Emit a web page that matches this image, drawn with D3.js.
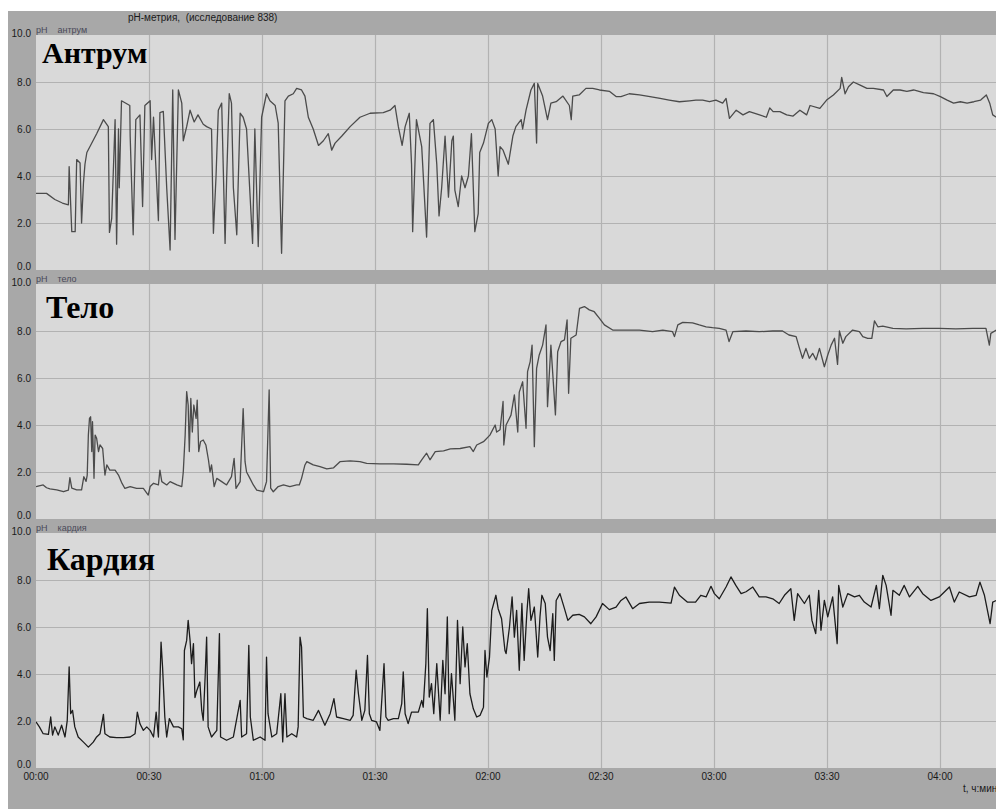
<!DOCTYPE html>
<html>
<head>
<meta charset="utf-8">
<script src="https://cdn.jsdelivr.net/npm/d3@7.9.0/dist/d3.min.js"></script>
<style>
    body { margin: 0; background: #fff; }
    text { font-family: "Liberation Sans", Arial, sans-serif; white-space: pre; }
</style>
</head>
<body>
<div id="chart"></div>
<script>
// time in minutes from start, pH value
const antrum = [
    [0, 3.26], [2.8, 3.26], [5, 3.0], [7, 2.85], [8.6, 2.77], [8.8, 4.4], [9.5, 1.63], [10.4, 1.63],
    [10.8, 4.7], [11.7, 4.55], [12.1, 2.0], [12.6, 3.7], [13.0, 4.5], [13.5, 5.0], [16.1, 5.8],
    [17.9, 6.4], [19.2, 6.1], [19.5, 1.6], [20.1, 2.2], [21.0, 6.4], [21.4, 1.1], [21.9, 6.0],
    [22.1, 3.5], [22.7, 7.2], [24.9, 7.0], [25.0, 5.7], [25.8, 1.5], [26.5, 6.4], [27.6, 6.6],
    [28.3, 2.7], [28.9, 7.0], [30.3, 7.2], [30.7, 4.7], [31.2, 6.5], [32.5, 2.1], [32.9, 6.7],
    [33.8, 6.75], [34.7, 3.5], [35.6, 0.85], [36.3, 7.66], [36.9, 1.3], [37.8, 7.66], [38.7, 7.1],
    [39.1, 5.5], [40.0, 6.1], [40.9, 6.8], [42.0, 6.3], [43.0, 6.6], [44.4, 6.2], [45.3, 6.1],
    [46.6, 6.0], [47.1, 1.56], [47.8, 4.0], [48.4, 6.8], [49.3, 7.1], [50.2, 1.13], [50.6, 3.8],
    [51.3, 7.5], [51.9, 7.1], [52.4, 3.5], [53.3, 1.5], [54.2, 6.67], [55.0, 6.5], [55.9, 6.0],
    [57.5, 1.13], [58.1, 6.0], [59.0, 1.0], [59.9, 6.5], [61.2, 7.5], [62.1, 7.2], [63.5, 7.0],
    [64.3, 6.25], [65.2, 0.71], [66.1, 7.2], [67.0, 7.4], [68.3, 7.5], [69.2, 7.73], [70.5, 7.66],
    [71.4, 7.4], [72.3, 6.5], [73.6, 6.0], [75.0, 5.3], [76.3, 5.5], [77.6, 5.8], [78.5, 5.1],
    [79.4, 5.4], [81.2, 5.7], [83.4, 6.1], [86.0, 6.5], [88.7, 6.67], [92.2, 6.7], [94.0, 6.8],
    [95.3, 7.0], [96.2, 6.1], [97.2, 5.3], [98.0, 6.1], [99.1, 6.67], [99.7, 4.5], [100.0, 1.63],
    [100.6, 4.5], [101.0, 6.4], [102.4, 5.25], [103.7, 1.4], [104.6, 6.24], [105.5, 6.4], [106.4, 4.5],
    [107.0, 2.3], [107.7, 3.5], [108.6, 5.7], [109.5, 3.1], [110.4, 5.5], [110.8, 5.7], [111.2, 3.4],
    [112.1, 2.7], [113.0, 4.0], [113.9, 3.5], [114.8, 4.0], [115.6, 5.8], [116.5, 1.63], [117.4, 2.4],
    [117.8, 5.0], [118.8, 5.4], [120.1, 6.24], [121.0, 6.4], [121.9, 6.0], [122.7, 4.0], [123.2, 5.25],
    [124.0, 5.1], [125.4, 4.5], [126.6, 5.7], [127.4, 6.1], [128.8, 6.4], [129.2, 6.0], [130.1, 6.8],
    [131.4, 7.66], [132.3, 7.94], [132.9, 5.4], [133.2, 7.94], [134.5, 7.4], [135.8, 6.4], [136.7, 7.1],
    [138.1, 7.16], [139.9, 7.4], [141.6, 7.0], [142.1, 6.4], [142.5, 7.4], [144.2, 7.45], [146.0, 7.73],
    [147.8, 7.73], [149.6, 7.66], [152.3, 7.6], [154.0, 7.38], [155.3, 7.38], [157.5, 7.5], [160.2, 7.45],
    [163.0, 7.38], [165.7, 7.3], [168.1, 7.23], [170.8, 7.16], [173.5, 7.2], [175.2, 7.23], [177.0, 7.23],
    [178.8, 7.16], [180.5, 7.23], [182.3, 7.1], [183.2, 7.3], [184.1, 6.45], [185.9, 6.8], [187.7, 6.6],
    [189.4, 6.74], [192.1, 6.6], [193.9, 6.5], [194.8, 6.9], [195.7, 6.74], [197.5, 6.74], [199.3, 6.6],
    [201.0, 6.55], [202.8, 6.8], [204.6, 6.6], [205.5, 7.0], [208.1, 6.88], [209.9, 7.23], [211.7, 7.45],
    [213.5, 7.73], [213.9, 8.2], [214.8, 7.5], [215.7, 7.8], [217.0, 8.0], [218.8, 7.87], [220.6, 7.73],
    [222.3, 7.73], [225.0, 7.66], [225.9, 7.38], [227.6, 7.66], [229.4, 7.66], [231.2, 7.6], [233.0, 7.66],
    [235.6, 7.55], [238.3, 7.5], [240.1, 7.38], [241.9, 7.23], [243.6, 7.1], [245.4, 7.16], [247.2, 7.1],
    [249.0, 7.16], [250.8, 7.23], [252.3, 7.45], [253.2, 7.1], [254.0, 6.6], [255, 6.5]
];

const telo = [
    [0, 1.38], [1.9, 1.45], [2.8, 1.33], [3.7, 1.28], [5.5, 1.24], [7.3, 1.16], [8.6, 1.23], [9.0, 1.76],
    [9.5, 1.31], [10.8, 1.24], [12.1, 1.24], [12.7, 1.8], [13.3, 1.6], [13.6, 1.87], [13.9, 3.57],
    [14.2, 4.28], [14.5, 4.35], [14.8, 2.87], [15.0, 4.14], [15.4, 1.73], [15.7, 3.57], [16.1, 3.43],
    [16.6, 2.87], [17.0, 3.15], [17.7, 3.0], [18.3, 1.87], [18.8, 2.3], [19.6, 2.08], [21.0, 2.08],
    [21.9, 1.87], [22.7, 1.56], [23.6, 1.3], [25.0, 1.38], [26.7, 1.3], [28.5, 1.3], [29.8, 1.02],
    [30.3, 1.38], [31.2, 1.52], [32.5, 1.45], [32.9, 2.08], [33.4, 1.59], [34.7, 1.45], [35.6, 1.59],
    [37.4, 1.45], [38.7, 1.38], [39.1, 2.0], [39.6, 3.57], [40.0, 5.42], [40.4, 4.85], [40.7, 2.87],
    [41.1, 5.13], [41.5, 3.7], [41.9, 4.85], [42.5, 4.28], [42.8, 5.06], [43.2, 2.87], [43.7, 3.3],
    [44.4, 3.36], [45.1, 3.15], [45.8, 2.5], [46.2, 2.0], [46.6, 2.3], [47.3, 1.38], [48.0, 1.73],
    [49.3, 1.59], [50.6, 1.45], [51.9, 1.8], [52.6, 2.58], [53.1, 1.3], [54.2, 1.59], [55.0, 4.7],
    [55.5, 2.44], [55.9, 2.0], [56.8, 1.73], [57.7, 1.45], [58.6, 1.23], [60.4, 1.16], [61.2, 1.59],
    [61.9, 5.49], [62.3, 1.31], [63.0, 1.16], [64.3, 1.38], [65.7, 1.45], [67.4, 1.38], [69.2, 1.45],
    [69.9, 1.45], [70.5, 1.73], [71.4, 2.3], [71.9, 2.44], [73.6, 2.3], [75.4, 2.23], [77.2, 2.13],
    [79.0, 2.18], [80.7, 2.44], [83.4, 2.47], [86.0, 2.44], [87.8, 2.37], [91.3, 2.35], [94.9, 2.35],
    [98.4, 2.33], [101.5, 2.3], [102.4, 2.52], [103.7, 2.8], [104.6, 2.52], [106.0, 2.87], [108.2, 2.9],
    [110.0, 2.98], [112.6, 3.0], [115.2, 3.08], [116.1, 2.87], [117.0, 3.15], [118.8, 3.29], [120.5, 3.57],
    [121.9, 4.0], [122.3, 3.7], [123.2, 3.8], [124.0, 5.0], [124.2, 3.15], [124.8, 4.0], [126.1, 4.42],
    [127.0, 5.28], [127.9, 3.7], [128.3, 5.4], [129.2, 5.84], [130.1, 3.86], [130.5, 6.27], [131.2, 6.7],
    [131.7, 7.4], [132.3, 3.08], [132.9, 6.41], [133.6, 6.98], [134.5, 7.4], [135.4, 8.26], [135.8, 4.78],
    [136.7, 7.4], [137.9, 4.43], [138.5, 7.12], [139.4, 7.55], [140.3, 7.62], [141.0, 8.47], [141.4, 5.35],
    [142.0, 7.69], [143.4, 7.83], [144.3, 8.96], [145.6, 9.04], [146.9, 8.9], [148.2, 8.82], [149.6, 8.54],
    [150.9, 8.26], [153.1, 8.04], [156.6, 8.04], [160.2, 8.04], [163.7, 7.97], [166.4, 8.04], [169.0, 7.97],
    [169.5, 7.76], [170.4, 8.26], [171.7, 8.37], [174.3, 8.35], [176.1, 8.26], [177.9, 8.18], [179.6, 8.14],
    [181.4, 8.11], [183.2, 8.04], [184.0, 7.55], [185.0, 7.97], [188.5, 8.0], [192.0, 7.97], [195.6, 8.0],
    [198.2, 8.0], [199.9, 7.83], [201.8, 7.76], [202.7, 7.26], [203.5, 6.84], [204.4, 7.26], [205.3, 6.84],
    [206.2, 7.05], [207.1, 6.77], [208.0, 7.26], [209.3, 6.48], [210.2, 6.98], [211.1, 7.4], [212.0, 7.69],
    [212.8, 6.58], [213.3, 8.0], [214.2, 7.48], [215.0, 7.76], [216.8, 8.04], [218.6, 7.97], [219.5, 7.76],
    [220.8, 7.69], [221.9, 7.69], [222.6, 8.43], [223.5, 8.18], [224.8, 8.21], [227.5, 8.11], [231.0, 8.09],
    [235.4, 8.11], [239.8, 8.11], [244.2, 8.09], [248.7, 8.11], [252.2, 8.11], [253.1, 7.4], [253.5, 7.9],
    [255, 8.04]
];

const kardia = [
    [0, 1.96], [0.9, 1.75], [1.9, 1.46], [3.3, 1.43], [3.9, 2.17], [4.4, 1.4], [5.0, 1.75], [5.9, 1.4],
    [6.8, 1.82], [7.7, 1.32], [8.3, 2.03], [8.8, 4.3], [9.2, 2.31], [9.7, 2.45], [10.3, 1.75], [11.2, 1.32],
    [12.6, 1.1], [13.9, 0.89], [15.2, 1.1], [16.1, 1.32], [17.0, 1.46], [17.9, 2.28], [18.3, 1.46],
    [19.6, 1.32], [21.4, 1.29], [23.2, 1.29], [25.0, 1.32], [26.3, 1.46], [26.9, 2.38], [27.6, 1.88],
    [28.5, 1.6], [29.4, 1.75], [30.3, 1.6], [31.2, 1.32], [31.9, 2.38], [32.5, 1.32], [33.2, 5.36],
    [33.6, 4.3], [34.2, 2.17], [34.7, 1.32], [35.4, 2.1], [36.5, 1.75], [37.8, 1.75], [38.7, 1.67],
    [39.1, 1.2], [39.4, 5.0], [40.0, 5.43], [40.4, 6.28], [40.9, 5.43], [41.3, 4.44], [41.8, 5.29],
    [42.2, 3.0], [42.7, 3.3], [43.5, 3.66], [44.0, 2.45], [44.4, 2.03], [44.9, 3.87], [45.3, 5.57],
    [45.7, 1.75], [46.6, 1.32], [48.0, 1.6], [48.7, 5.72], [49.0, 1.32], [50.6, 1.18], [52.4, 1.32],
    [54.2, 2.88], [54.6, 1.32], [55.9, 1.46], [56.5, 5.22], [56.9, 2.17], [57.7, 1.18], [59.5, 1.32],
    [60.8, 1.18], [61.2, 4.72], [61.6, 2.31], [62.6, 1.32], [63.9, 1.46], [65.0, 3.16], [65.5, 1.11],
    [66.1, 3.16], [66.6, 1.32], [67.9, 1.46], [69.2, 1.32], [69.6, 1.75], [70.1, 5.57], [70.5, 5.15],
    [71.0, 2.17], [71.9, 2.1], [73.6, 2.03], [75.0, 2.45], [76.7, 1.82], [78.1, 2.31], [79.1, 2.95],
    [79.8, 2.17], [81.6, 2.1], [83.4, 2.03], [84.2, 2.24], [85.0, 4.16], [85.6, 3.16], [86.5, 2.03],
    [87.3, 2.45], [88.0, 4.79], [88.5, 2.31], [89.1, 2.03], [90.4, 1.96], [91.3, 1.6], [92.4, 4.44],
    [92.9, 2.17], [93.5, 2.03], [94.9, 2.1], [96.2, 2.1], [97.1, 2.74], [97.5, 4.09], [98.0, 2.31],
    [98.8, 1.89], [99.7, 2.38], [101.5, 2.38], [102.4, 2.88], [102.8, 2.59], [103.5, 4.44], [103.9, 6.78],
    [104.4, 3.02], [105.0, 3.59], [105.6, 2.31], [106.4, 4.44], [107.3, 2.03], [108.0, 4.58], [108.6, 3.16],
    [109.2, 6.43], [109.7, 2.31], [110.3, 4.02], [111.2, 2.03], [111.9, 6.28], [112.6, 3.59], [113.3, 6.0],
    [113.9, 4.3], [114.5, 5.29], [115.2, 3.16], [116.1, 2.52], [117.0, 2.17], [117.9, 2.24], [118.8, 2.59],
    [119.2, 5.0], [119.7, 3.87], [120.4, 4.72], [121.0, 6.7], [122.1, 7.35], [122.7, 6.78], [123.6, 6.35],
    [124.5, 5.0], [124.8, 4.87], [125.7, 6.0], [126.4, 7.28], [127.0, 5.57], [127.6, 6.71], [128.3, 4.16],
    [129.0, 7.0], [129.6, 4.58], [130.3, 6.57], [130.8, 7.63], [131.4, 6.28], [132.3, 6.85], [133.2, 4.72],
    [133.8, 6.43], [134.3, 7.35], [135.2, 7.0], [135.8, 5.57], [136.5, 5.0], [137.2, 6.57], [137.6, 4.58],
    [138.1, 7.13], [139.1, 7.42], [140.3, 6.78], [141.2, 6.28], [142.5, 6.5], [144.2, 6.54], [145.6, 6.43],
    [147.3, 6.14], [148.7, 6.43], [150.4, 7.0], [152.2, 6.74], [154.0, 6.85], [155.3, 7.13], [156.6, 7.28],
    [158.4, 6.78], [160.2, 7.0], [162.8, 7.06], [165.5, 7.06], [168.6, 7.02], [169.5, 7.7], [170.8, 7.35],
    [172.9, 7.06], [175.1, 7.06], [176.5, 7.35], [177.9, 7.28], [179.2, 7.73], [180.1, 7.42], [181.4, 7.2],
    [183.2, 7.7], [184.5, 8.13], [185.8, 7.77], [187.2, 7.42], [188.5, 7.5], [190.3, 7.7], [192.0, 7.28],
    [193.8, 7.28], [195.6, 7.2], [197.3, 7.0], [198.7, 7.35], [200.4, 7.63], [201.3, 6.28], [202.2, 7.42],
    [204.0, 7.0], [205.3, 7.35], [206.0, 6.28], [207.0, 5.72], [207.8, 7.56], [208.4, 5.86], [209.3, 7.13],
    [210.2, 6.43], [211.5, 7.28], [212.7, 5.29], [213.1, 7.77], [214.2, 6.85], [215.5, 7.42], [217.3, 7.28],
    [218.6, 7.35], [219.9, 7.06], [221.7, 6.85], [223.1, 7.77], [223.9, 6.78], [224.8, 8.2], [225.7, 7.77],
    [227.0, 6.5], [227.5, 7.56], [229.2, 7.35], [230.5, 7.77], [231.9, 7.28], [234.1, 7.73], [235.4, 7.42],
    [237.6, 7.13], [239.8, 7.28], [242.5, 7.7], [243.8, 7.06], [245.1, 7.49], [247.8, 7.28], [249.6, 7.35],
    [250.6, 7.91], [251.8, 7.35], [253.3, 6.14], [254.0, 7.06], [255, 7.13]
];

const panelNames = ["антрум", "тело", "кардия"];
const panelTitles = ["Антрум", "Тело", "Кардия"];
const yTicks = [0, 2, 4, 6, 8, 10];
const xTicks = [0, 30, 60, 90, 120, 150, 180, 210, 240];
const chartTitle = "pH-метрия,  (исследование 838)";
const xAxisLabel = "t, ч:мин";

const width = 996;
const height = 809;
const plotLeft = 36;
const plotRight = 996;
const panelHeight = 235;
const panelTops = [35, 284, 533];
const lineColors = ["#4b4b4b", "#4b4b4b", "#1c1c1c"];
const titleOffsets = [{ x: 42, y: 28, size: 30 }, { x: 46, y: 34, size: 32 }, { x: 47, y: 37, size: 32 }];

const svg = d3.select("#chart").append("svg")
    .attr("width", width)
    .attr("height", height);

// grey window background
svg.append("rect")
    .attr("x", 8)
    .attr("y", 11)
    .attr("width", width - 8)
    .attr("height", height - 11)
    .attr("fill", "#a8a8a8");

const x = d3.scaleLinear()
    .domain([0, (plotRight - plotLeft) * 30 / 113]) // 113 px per 30 min
    .range([plotLeft, plotRight]);

svg.append("text")
    .attr("x", 128)
    .attr("y", 21)
    .style("font-size", "10px")
    .attr("fill", "#1a1a1a")
    .text(chartTitle);

const series = [antrum, telo, kardia];

series.forEach((data, i) => {
    const top = panelTops[i];
    const y = d3.scaleLinear()
        .domain([0, 10])
        .range([top + panelHeight, top]);

    const g = svg.append("g");

    g.append("rect")
        .attr("x", plotLeft)
        .attr("y", top)
        .attr("width", plotRight - plotLeft)
        .attr("height", panelHeight)
        .attr("fill", "#d9d9d9");

    // grid
    g.append("g")
        .attr("transform", `translate(0,${top + panelHeight})`)
        .call(d3.axisBottom(x).tickValues(xTicks.filter(t => t > 0)).tickSize(-panelHeight).tickFormat(""))
        .call(a => a.select(".domain").remove())
        .selectAll("line")
        .attr("stroke", "#b2b2b2")
        .attr("stroke-width", 1.2);

    g.append("g")
        .attr("transform", `translate(${plotLeft},0)`)
        .call(d3.axisLeft(y).tickValues(yTicks.filter(v => v > 0 && v < 10)).tickSize(-(plotRight - plotLeft)).tickFormat(""))
        .call(a => a.select(".domain").remove())
        .selectAll("line")
        .attr("stroke", "#b2b2b2")
        .attr("stroke-width", 1.2);

    // y labels
    g.selectAll(".ylab")
        .data(yTicks)
        .enter().append("text")
        .attr("class", "ylab")
        .attr("x", 31)
        .attr("y", d => d === 0 ? y(d) : d === 10 ? y(d) + 2 : y(d) + 3.5)
        .attr("text-anchor", "end")
        .style("font-size", "10px")
        .attr("fill", "#1a1a1a")
        .text(d => d.toFixed(1));

    // header strip label
    g.append("text")
        .attr("x", plotLeft)
        .attr("y", top - 2)
        .style("font-size", "9px")
        .attr("fill", "#4a4a5a")
        .text("pH    " + panelNames[i]);

    const clipId = "clip" + i;
    svg.append("clipPath")
        .attr("id", clipId)
        .append("rect")
        .attr("x", plotLeft)
        .attr("y", top)
        .attr("width", plotRight - plotLeft)
        .attr("height", panelHeight);

    const line = d3.line()
        .x(d => x(d[0]))
        .y(d => y(d[1]));

    g.append("path")
        .datum(data)
        .attr("clip-path", `url(#${clipId})`)
        .attr("fill", "none")
        .attr("stroke", lineColors[i])
        .attr("stroke-width", 1.3)
        .attr("stroke-linejoin", "round")
        .attr("d", line);

    g.append("text")
        .attr("x", titleOffsets[i].x)
        .attr("y", top + titleOffsets[i].y)
        .style("font-family", "'Liberation Serif', 'Times New Roman', serif")
        .style("font-weight", "bold")
        .style("font-size", titleOffsets[i].size + "px")
        .attr("fill", "#000")
        .text(panelTitles[i]);
});

// time axis labels
const bottom = panelTops[2] + panelHeight;
svg.selectAll(".xlab")
    .data(xTicks)
    .enter().append("text")
    .attr("class", "xlab")
    .attr("x", d => x(d))
    .attr("y", bottom + 12)
    .attr("text-anchor", "middle")
    .style("font-size", "10px")
    .attr("fill", "#1a1a1a")
    .text(d => d3.format("02")(Math.floor(d / 60)) + ":" + d3.format("02")(d % 60));

svg.append("text")
    .attr("x", 963)
    .attr("y", bottom + 24)
    .style("font-size", "10px")
    .attr("fill", "#1a1a1a")
    .text(xAxisLabel);
</script>
</body>
</html>
